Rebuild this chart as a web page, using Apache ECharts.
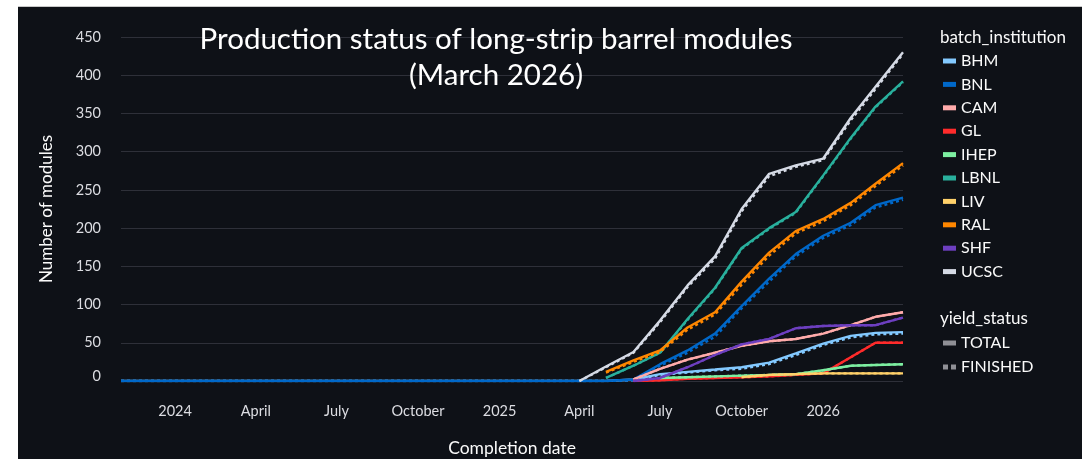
<!DOCTYPE html>
<html>
<head>
<meta charset="utf-8">
<title>Production status of long-strip barrel modules</title>
<script src="https://cdn.jsdelivr.net/npm/echarts@6/dist/echarts.min.js"></script>
<style>
  html, body { margin: 0; padding: 0; background: #ffffff; }
  #panel { position: absolute; left: 18px; top: 6px; width: 1064px; height: 453px; background: #0e1117; border-top: 1px solid #c8c8c8; box-sizing: border-box; }
  #chart { position: absolute; left: 0; top: 0; width: 1089px; height: 459px; }
</style>
</head>
<body>
<div id="panel"></div>
<div id="chart"></div>
<script>
// Completion dates (monthly snapshots; flat zero period before April 2025)
const dates = ['2023-11-01', '2025-04-01', '2025-05-01', '2025-06-01', '2025-07-01', '2025-08-01',
  '2025-09-01', '2025-10-01', '2025-11-01', '2025-12-01', '2026-01-01', '2026-02-01', '2026-03-01', '2026-04-01'];

const institutions = ['BHM', 'BNL', 'CAM', 'GL', 'IHEP', 'LBNL', 'LIV', 'RAL', 'SHF', 'UCSC'];

// Cumulative number of modules, TOTAL
const totalBHM  = [0, 0, 0, 2, 9, 12, 15, 18, 24, 36, 49, 59, 63, 64];
const totalBNL  = [0, 0, 0, 2, 22, 40, 62, 98, 134, 166, 190, 207, 230, 240];
const totalCAM  = [null, null, null, 2, 16, 28, 37, 46, 52, 55, 62, 73, 84, 90];
const totalGL   = [null, null, null, 0, 1, 3, 4, 5, 6, 8, 10, 31, 50, 50];
const totalIHEP = [null, null, null, null, 4, 5, 6, 7, 8, 9, 14, 20, 21, 22];
const totalLBNL = [null, null, 4, 20, 37, 81, 122, 174, 200, 221, 269, 318, 359, 392];
const totalLIV  = [null, null, null, null, null, null, null, 5, 8, 9, 10, 10, 10, 10];
const totalRAL  = [null, null, 12, 27, 40, 70, 90, 130, 168, 196, 212, 233, 258, 285];
const totalSHF  = [null, null, null, 0, 4, 18, 34, 48, 55, 69, 72, 73, 73, 83];
const totalUCSC = [null, 0, 19, 38, 79, 125, 163, 225, 271, 282, 291, 344, 385, 430];

// Cumulative number of modules, FINISHED
const finishedBHM  = [0, 0, 0, 1, 8, 11, 14, 16, 22, 34, 47, 57, 61, 62];
const finishedBNL  = [0, 0, 0, 1, 20, 37, 58, 95, 130, 163, 187, 204, 227, 237];
const finishedCAM  = [null, null, null, 2, 16, 28, 37, 46, 52, 55, 62, 73, 84, 90];
const finishedGL   = [null, null, null, 0, 1, 3, 4, 5, 6, 8, 10, 31, 50, 50];
const finishedIHEP = [null, null, null, null, 4, 5, 6, 7, 8, 9, 14, 20, 21, 22];
const finishedLBNL = [null, null, 4, 20, 37, 80, 121, 173, 199, 220, 268, 317, 358, 391];
const finishedLIV  = [null, null, null, null, null, null, null, 5, 8, 9, 10, 10, 10, 10];
const finishedRAL  = [null, null, 11, 25, 38, 67, 87, 126, 164, 193, 209, 230, 255, 282];
const finishedSHF  = [null, null, null, 0, 4, 18, 34, 48, 55, 69, 72, 73, 73, 83];
const finishedUCSC = [null, 0, 18, 37, 77, 123, 160, 222, 268, 280, 289, 341, 382, 428];

// Quarter ticks on the date axis
const tickDates  = ['2024-01-01', '2024-04-01', '2024-07-01', '2024-10-01', '2025-01-01',
  '2025-04-01', '2025-07-01', '2025-10-01', '2026-01-01'];
const tickLabels = ['2024', 'April', 'July', 'October', '2025', 'April', 'July', 'October', '2026'];
const dateMin = '2023-11-01';
const dateMax = '2026-04-01';

const palette = ['#83c9ff', '#0068c9', '#ffabab', '#ff2b2b', '#7defa1',
  '#29b09d', '#ffd16a', '#ff8700', '#6d3fc0', '#d5dae5'];

const totals = {
  BHM: totalBHM, BNL: totalBNL, CAM: totalCAM, GL: totalGL, IHEP: totalIHEP,
  LBNL: totalLBNL, LIV: totalLIV, RAL: totalRAL, SHF: totalSHF, UCSC: totalUCSC
};
const finished = {
  BHM: finishedBHM, BNL: finishedBNL, CAM: finishedCAM, GL: finishedGL, IHEP: finishedIHEP,
  LBNL: finishedLBNL, LIV: finishedLIV, RAL: finishedRAL, SHF: finishedSHF, UCSC: finishedUCSC
};

const FONT = 'Lato, "Noto Sans", sans-serif';
const ms = d => Date.parse(d + 'T00:00:00Z');
const tickTimes = tickDates.map(ms);

function pairs(values) {
  return dates.map((d, k) => [ms(d), values[k]]);
}

const series = [];
institutions.forEach((name, i) => {
  const color = palette[i];
  series.push({
    name, type: 'line', data: pairs(totals[name]),
    showSymbol: false, symbol: 'none', connectNulls: false,
    itemStyle: { color },
    lineStyle: { color, width: 2.4 },
    emphasis: { disabled: true }
  });
  series.push({
    name, type: 'line', data: pairs(finished[name]),
    showSymbol: false, symbol: 'none', connectNulls: false,
    itemStyle: { color },
    lineStyle: { color, width: 2.4, type: [3, 3] },
    emphasis: { disabled: true }
  });
});
// Entries for the yield_status key
series.push({ name: 'TOTAL', type: 'line', data: [], itemStyle: { color: '#8f9096' }, lineStyle: { color: '#8f9096' } });
series.push({ name: 'FINISHED', type: 'line', data: [], itemStyle: { color: '#8f9096' }, lineStyle: { color: '#8f9096', type: [3, 3] } });

const chart = echarts.init(document.getElementById('chart'), null, { renderer: 'canvas' });

chart.setOption({
  animation: false,
  backgroundColor: 'transparent',
  title: [
    {
      text: 'Production status of long-strip barrel modules\n(March 2026)',
      left: 496, top: 21, textAlign: 'center', padding: 0,
      textStyle: { color: '#ffffff', fontSize: 29.5, lineHeight: 36, fontWeight: 'normal', fontFamily: FONT }
    },
    {
      text: 'batch_institution', left: 940, top: 29, padding: 0,
      textStyle: { color: '#fafafa', fontSize: 17, fontWeight: 'normal', fontFamily: FONT }
    },
    {
      text: 'yield_status', left: 940, top: 310, padding: 0,
      textStyle: { color: '#fafafa', fontSize: 17, fontWeight: 'normal', fontFamily: FONT }
    }
  ],
  legend: [
    {
      data: institutions.map(n => ({ name: n, icon: 'rect' })),
      orient: 'vertical', left: 938, top: 48,
      itemWidth: 13, itemHeight: 5, itemGap: 7.4,
      selectedMode: false,
      itemStyle: { borderWidth: 0 },
      textStyle: { color: '#fafafa', fontSize: 16, lineHeight: 16, fontFamily: FONT }
    },
    {
      data: [
        { name: 'TOTAL', icon: 'rect' },
        { name: 'FINISHED', icon: 'path://M0,0H5V5H0Z M8,0H13V5H8Z' }
      ],
      orient: 'vertical', left: 938, top: 330,
      itemWidth: 13, itemHeight: 5, itemGap: 8,
      selectedMode: false,
      itemStyle: { borderWidth: 0 },
      textStyle: { color: '#fafafa', fontSize: 16, lineHeight: 16, fontFamily: FONT }
    }
  ],
  grid: { left: 121, right: 186, top: 37, bottom: 78, containLabel: false, outerBoundsMode: 'none' },
  xAxis: {
    type: 'value',
    min: ms(dateMin), max: ms(dateMax),
    name: 'Completion date', nameLocation: 'middle', nameGap: 58,
    nameTextStyle: { color: '#fafafa', fontSize: 17.5, fontFamily: FONT },
    axisLine: { show: false },
    axisTick: { show: false },
    splitLine: { show: false },
    axisLabel: {
      customValues: tickTimes,
      margin: 23,
      color: '#dcdde2', fontSize: 14.5, fontFamily: FONT,
      formatter: v => {
        const k = tickTimes.indexOf(+v);
        return k >= 0 ? tickLabels[k] : '';
      }
    }
  },
  yAxis: {
    type: 'value', min: 0, max: 450, interval: 50,
    name: 'Number of modules', nameLocation: 'middle', nameGap: 66, nameRotate: 90,
    nameTextStyle: { color: '#fafafa', fontSize: 17, fontFamily: FONT },
    axisLine: { show: false },
    axisTick: { show: false },
    splitLine: { lineStyle: { color: '#2e3039', width: 1.2 } },
    axisLabel: {
      margin: 20, color: '#dcdde2', fontSize: 14.5, fontFamily: FONT,
      formatter: v => (v === 0 ? '{z|0}' : String(v)),
      rich: { z: { padding: [0, 0, 10, 0], color: '#dcdde2', fontSize: 14.5, fontFamily: FONT } }
    }
  },
  series
});
</script>
</body>
</html>
